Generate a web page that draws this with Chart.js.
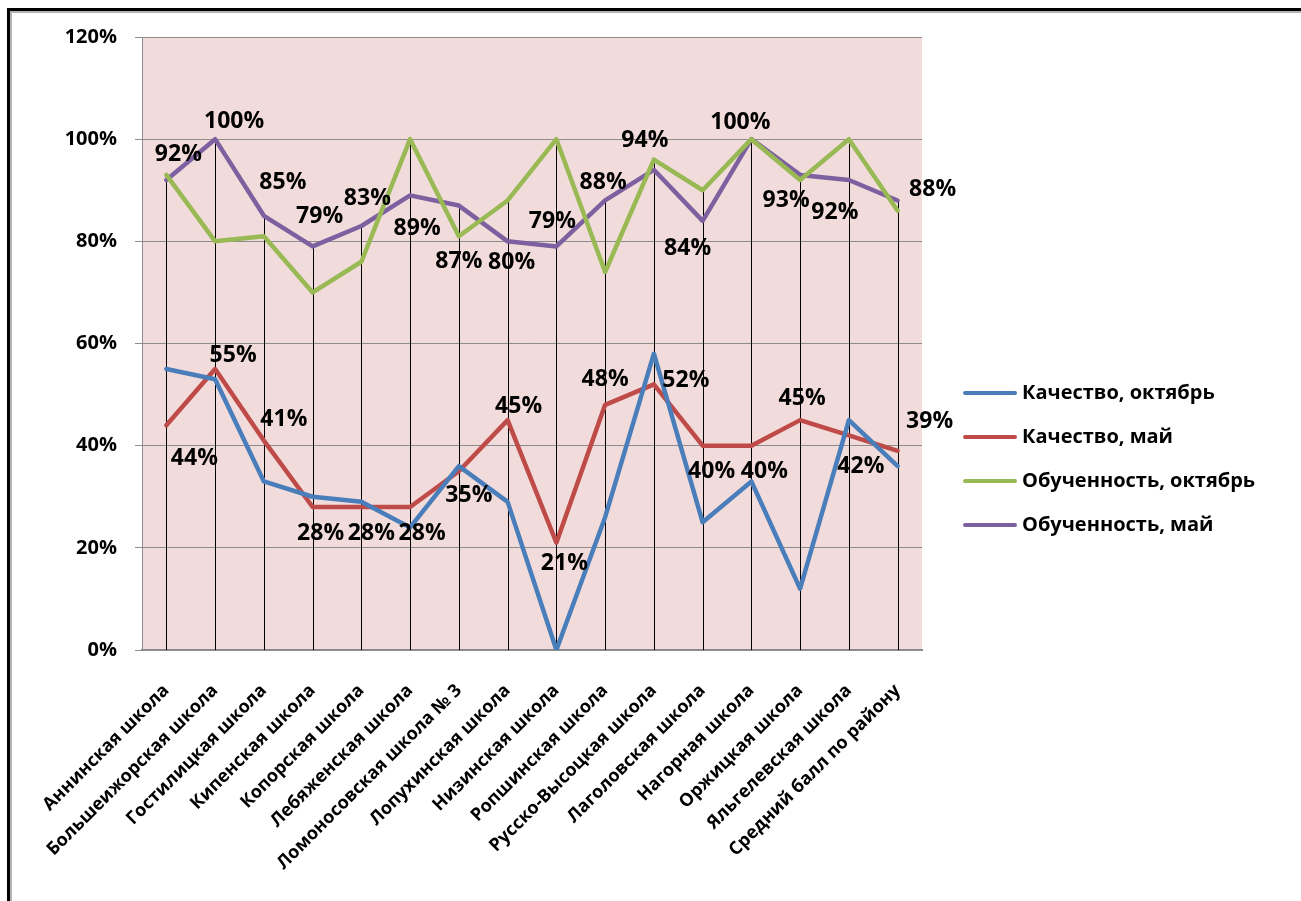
<!DOCTYPE html>
<html>
<head>
<meta charset="utf-8">
<script src="https://cdn.jsdelivr.net/npm/chart.js@4/dist/chart.umd.min.js"></script>
<style>
body{margin:0;background:#fff;}
#caixa{position:absolute;left:0;top:0;width:1301px;height:901px;}
#moldura{position:absolute;left:7px;top:8px;right:0;bottom:0;border-top:3px solid #000;border-left:3px solid #000;box-shadow:inset 2px 2px 0 #b4b4b4;pointer-events:none;}
#legenda{position:absolute;left:963px;top:370px;font:bold 20px "Open Sans";color:#000;}
#legenda div{height:44px;line-height:44px;white-space:nowrap;}
#legenda span{display:inline-block;width:54px;height:4px;border-radius:2px;vertical-align:middle;margin-right:5px;position:relative;top:-1px;}
</style>
</head>
<body>
<div id="caixa"><canvas id="grafico"></canvas></div>
<div id="moldura"></div>
<div id="legenda"></div>
<script>
var escolas=["Аннинская школа","Большеижорская школа","Гостилицкая школа","Кипенская школа","Копорская школа","Лебяженская школа","Ломоносовская школа № 3","Лопухинская школа","Низинская школа","Ропшинская школа","Русско-Высоцкая школа","Лаголовская школа","Нагорная школа","Оржицкая школа","Яльгелевская школа","Средний балл по району"];
var qualidadeOut=[55,53,33,30,29,24,36,29,0,26,58,25,33,12,45,36];
var qualidadeMai=[44,55,41,28,28,28,35,45,21,48,52,40,40,45,42,39];
var ensinoOut=[93,80,81,70,76,100,81,88,100,74,96,90,100,92,100,86];
var ensinoMai=[92,100,85,79,83,89,87,80,79,88,94,84,100,93,92,88];
var ticksY=[0,20,40,60,80,100,120];

// deslocamento dos rótulos em relação ao ponto (px)
var rotMai=[[28,33],[18,-14],[20,-21],[8,26],[10,26],[12,26],[10,24],[11,-14],[8,21],[0,-25],[32,-4],[9,26],[13,26],[2,-22],[12,31],[32,-29]];
var rotEnsMai=[[12,-26],[19,-18],[19,-33],[7,-30],[6,-28],[7,33],[0,56],[4,21],[-4,-25],[-2,-18],[-9,-29],[-15,28],[-11,-17],[-14,26],[-14,32],[35,-11]];

var series=[
    {label:"Качество, октябрь",data:qualidadeOut,cor:"#4a7ebb",rot:null},
    {label:"Качество, май",data:qualidadeMai,cor:"#be4b48",rot:rotMai},
    {label:"Обученность, октябрь",data:ensinoOut,cor:"#98b954",rot:null},
    {label:"Обученность, май",data:ensinoMai,cor:"#7d60a0",rot:rotEnsMai}
];

var fundo={
    id:"fundo",
    beforeDraw:function(chart){
        var a=chart.chartArea,ctx=chart.ctx;
        ctx.save();
        ctx.fillStyle="#f2dcdb";
        ctx.fillRect(a.left,a.top,a.right-a.left,a.bottom-a.top);
        ctx.restore();
    }
};

// linhas de projeção: do maior valor de cada escola até o eixo
var projecao={
    id:"projecao",
    beforeDatasetsDraw:function(chart){
        var ctx=chart.ctx,x=chart.scales.x,y=chart.scales.y;
        ctx.save();
        ctx.strokeStyle="#000";
        ctx.lineWidth=1;
        for(var i=0;i<escolas.length;i++){
            var max=0;
            for(var s of series){ if(s.data[i]>max) max=s.data[i]; }
            var px=Math.round(x.getPixelForValue(i))+0.5;
            ctx.beginPath();
            ctx.moveTo(px,y.getPixelForValue(max));
            ctx.lineTo(px,y.getPixelForValue(0));
            ctx.stroke();
        }
        ctx.restore();
    }
};

var rotulos={
    id:"rotulos",
    afterDatasetsDraw:function(chart){
        var ctx=chart.ctx,x=chart.scales.x,y=chart.scales.y;
        ctx.save();
        ctx.font='bold 23px "Open Sans"';
        ctx.fillStyle="#000";
        ctx.textAlign="center";
        ctx.textBaseline="middle";
        for(var s of series){
            if(!s.rot) continue;
            for(var i=0;i<s.data.length;i++){
                var px=x.getPixelForValue(i)+s.rot[i][0];
                var py=y.getPixelForValue(s.data[i])+s.rot[i][1];
                ctx.fillText(s.data[i]+"%",px,py);
            }
        }
        ctx.restore();
    }
};

var dados={
    labels:escolas,
    datasets:series.map(function(s){
        return {
            label:s.label,
            data:s.data,
            borderColor:s.cor,
            backgroundColor:s.cor,
            borderWidth:4.5,
            borderJoinStyle:"round",
            borderCapStyle:"round",
            tension:0,
            pointRadius:0,
            fill:false
        };
    })
};

var config={
    type:"line",
    data:dados,
    options:{
        responsive:true,
        maintainAspectRatio:false,
        animation:false,
        layout:{padding:{top:37,right:379,left:10,bottom:0}},
        plugins:{legend:{display:false},tooltip:{enabled:false}},
        scales:{
            x:{
                offset:true,
                grid:{display:false},
                border:{color:"#8c8c8c",width:2},
                ticks:{
                    autoSkip:false,
                    minRotation:45,
                    maxRotation:45,
                    padding:22,
                    color:"#000",
                    font:{family:"Open Sans",size:18,weight:"bold"}
                },
                afterFit:function(scale){ scale.height=251; }
            },
            y:{
                min:0,
                max:120,
                afterBuildTicks:function(scale){ scale.ticks=ticksY.map(function(v){return {value:v};}); },
                grid:{color:"#8c8c8c",lineWidth:1,tickLength:7},
                border:{color:"#8c8c8c"},
                ticks:{
                    padding:18,
                    color:"#000",
                    font:{family:"Open Sans",size:20,weight:"bold"},
                    callback:function(v){ return v+"%"; }
                },
                afterFit:function(scale){ scale.width=132; }
            }
        }
    },
    plugins:[fundo,projecao,rotulos]
};

var ctx=document.getElementById("grafico").getContext("2d");
var g1=new Chart(ctx,config);

var legenda=document.getElementById("legenda");
for(var s of series){
    var linha=document.createElement("div");
    linha.innerHTML='<span style="background:'+s.cor+'"></span>'+s.label;
    legenda.appendChild(linha);
}
</script>
</body>
</html>
